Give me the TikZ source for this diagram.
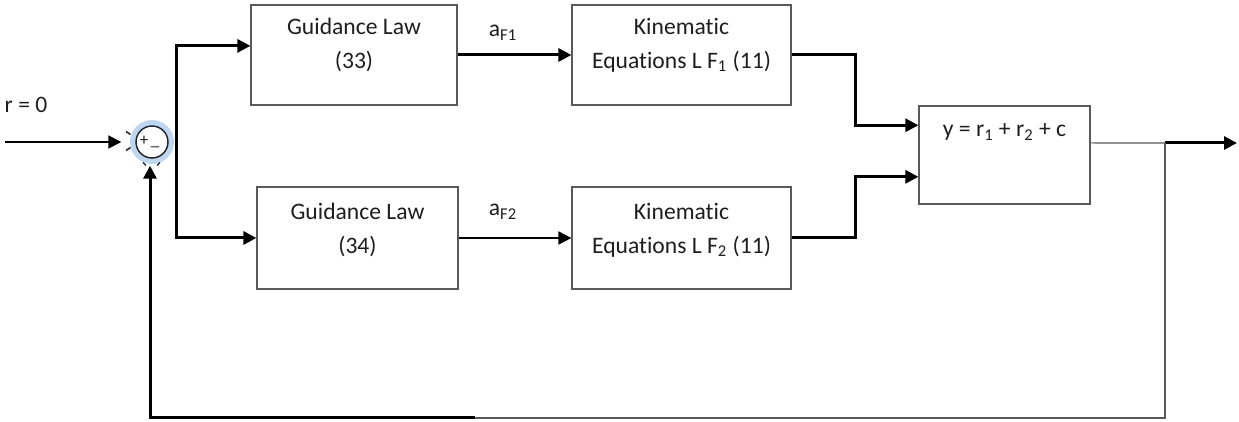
\documentclass[tikz,border=0pt]{standalone}
\usepackage{fontspec}
\setmainfont[Ligatures=CommonOff]{Carlito}
\usetikzlibrary{arrows.meta,calc}
\definecolor{edge}{HTML}{595959}
\definecolor{ink}{HTML}{1E1E1E}
\definecolor{glow}{HTML}{BDD6F2}

\begin{document}
\begin{tikzpicture}[x=0.5pt,y=-0.5pt,
  font=\fontsize{11.8}{17}\selectfont,
  block/.style={draw=edge, line width=0.6pt, fill=white, inner sep=0pt},
  txt/.style={text=ink, align=center, inner sep=0pt},
  tip/.style={-{Triangle[length=6.5pt,width=6.5pt]}},
  heavy/.style={line width=1.5pt, black},
  medium/.style={line width=0.9pt, black},
  light/.style={line width=0.6pt, edge},
  handle/.style={line width=0.7pt, ink},
  ]
  % canvas
  \useasboundingbox (0,0) rectangle (1239,422);

  % blocks
  \node[block, minimum width=103pt,   minimum height=50pt]   (gl1) at (354,55)    {};
  \node[block, minimum width=109.5pt, minimum height=50pt]   (k1)  at (681.5,55)  {};
  \node[block, minimum width=100.5pt, minimum height=51pt]   (gl2) at (357.5,238) {};
  \node[block, minimum width=109.5pt, minimum height=51pt]   (k2)  at (681.5,238) {};
  \node[block, minimum width=85.5pt,  minimum height=49pt]   (yb)  at (1004.5,155) {};

  % block texts
  \node[txt] (t1) at (354,45)    {Guidance Law\\(33)};
  \node[txt] (t2) at (681.5,45)  {Kinematic\\Equations L F\textsubscript{1} (11)};
  \node[txt] (t3) at (357.5,230) {Guidance Law\\(34)};
  \node[txt] (t4) at (681.5,230) {Kinematic\\Equations L F\textsubscript{2} (11)};
  \node[txt] (t5) at (1004.5,132) {y = r\textsubscript{1} + r\textsubscript{2} + c};

  % signal labels
  \node[txt] (la1) at (503,33)  {a\textsubscript{F1}};
  \node[txt] (la2) at (503,212) {a\textsubscript{F2}};
  \node[txt] (lr)  at (26,105)  {r = 0};

  % summing junction with its highlight and handles
  \draw[glow, line width=3pt] (152,142) circle[radius=19];
  \node[circle, draw=ink, line width=0.7pt, minimum size=16pt, inner sep=0pt] (sum) at (152,142) {};
  \node[txt, font=\fontsize{8.5}{8.5}\selectfont] (plus)  at (144,141) {+};
  \node[txt, font=\fontsize{8.5}{8.5}\selectfont] (minus) at (155,147) {\_};
  \draw[handle] (126,131.5) -- (130.5,134.5);
  \draw[handle] (126,150.5) -- (130.5,147.5);
  \draw[handle] (143,162.5) -- (146,165.5);
  \draw[handle] (157,165.5) -- (160,162.5);

  % helper points
  \coordinate (in)    at (5,142);
  \coordinate (split) at (176,142);
  \coordinate (tap)   at (1165,143);
  \coordinate (fb)    at (475,418);
  \coordinate (out)   at (1237,143);

  % reference input
  \draw[medium, tip, shorten >=7pt] (in) -- (sum.west);

  % branch to both guidance laws
  \draw[heavy, tip] (split) |- ($(gl1.north west)!0.41!(gl1.south west)$);
  \draw[heavy, tip] (split) |- (gl2.west);

  % guidance laws to kinematics
  \draw[heavy, tip] (gl1.east) -- (k1.west);
  \draw[medium, tip] (gl2.east) -- (k2.west);

  % kinematics to output block
  \draw[heavy, tip] (k1.east) -- ++(64,0) |- ($(yb.north west)!0.2!(yb.south west)$);
  \draw[heavy, tip] (k2.east) -- ++(64,0) |- ($(yb.north west)!0.72!(yb.south west)$);

  % output and feedback
  \draw[light] ($(yb.north east)!0.378!(yb.south east)$) -- (tap);
  \draw[heavy, tip] (tap) -- (out);
  \draw[light] (tap) |- (fb);
  \draw[heavy, tip, shorten >=3.5pt] (fb) -| ([xshift=-1pt]sum.south);
\end{tikzpicture}
\end{document}
